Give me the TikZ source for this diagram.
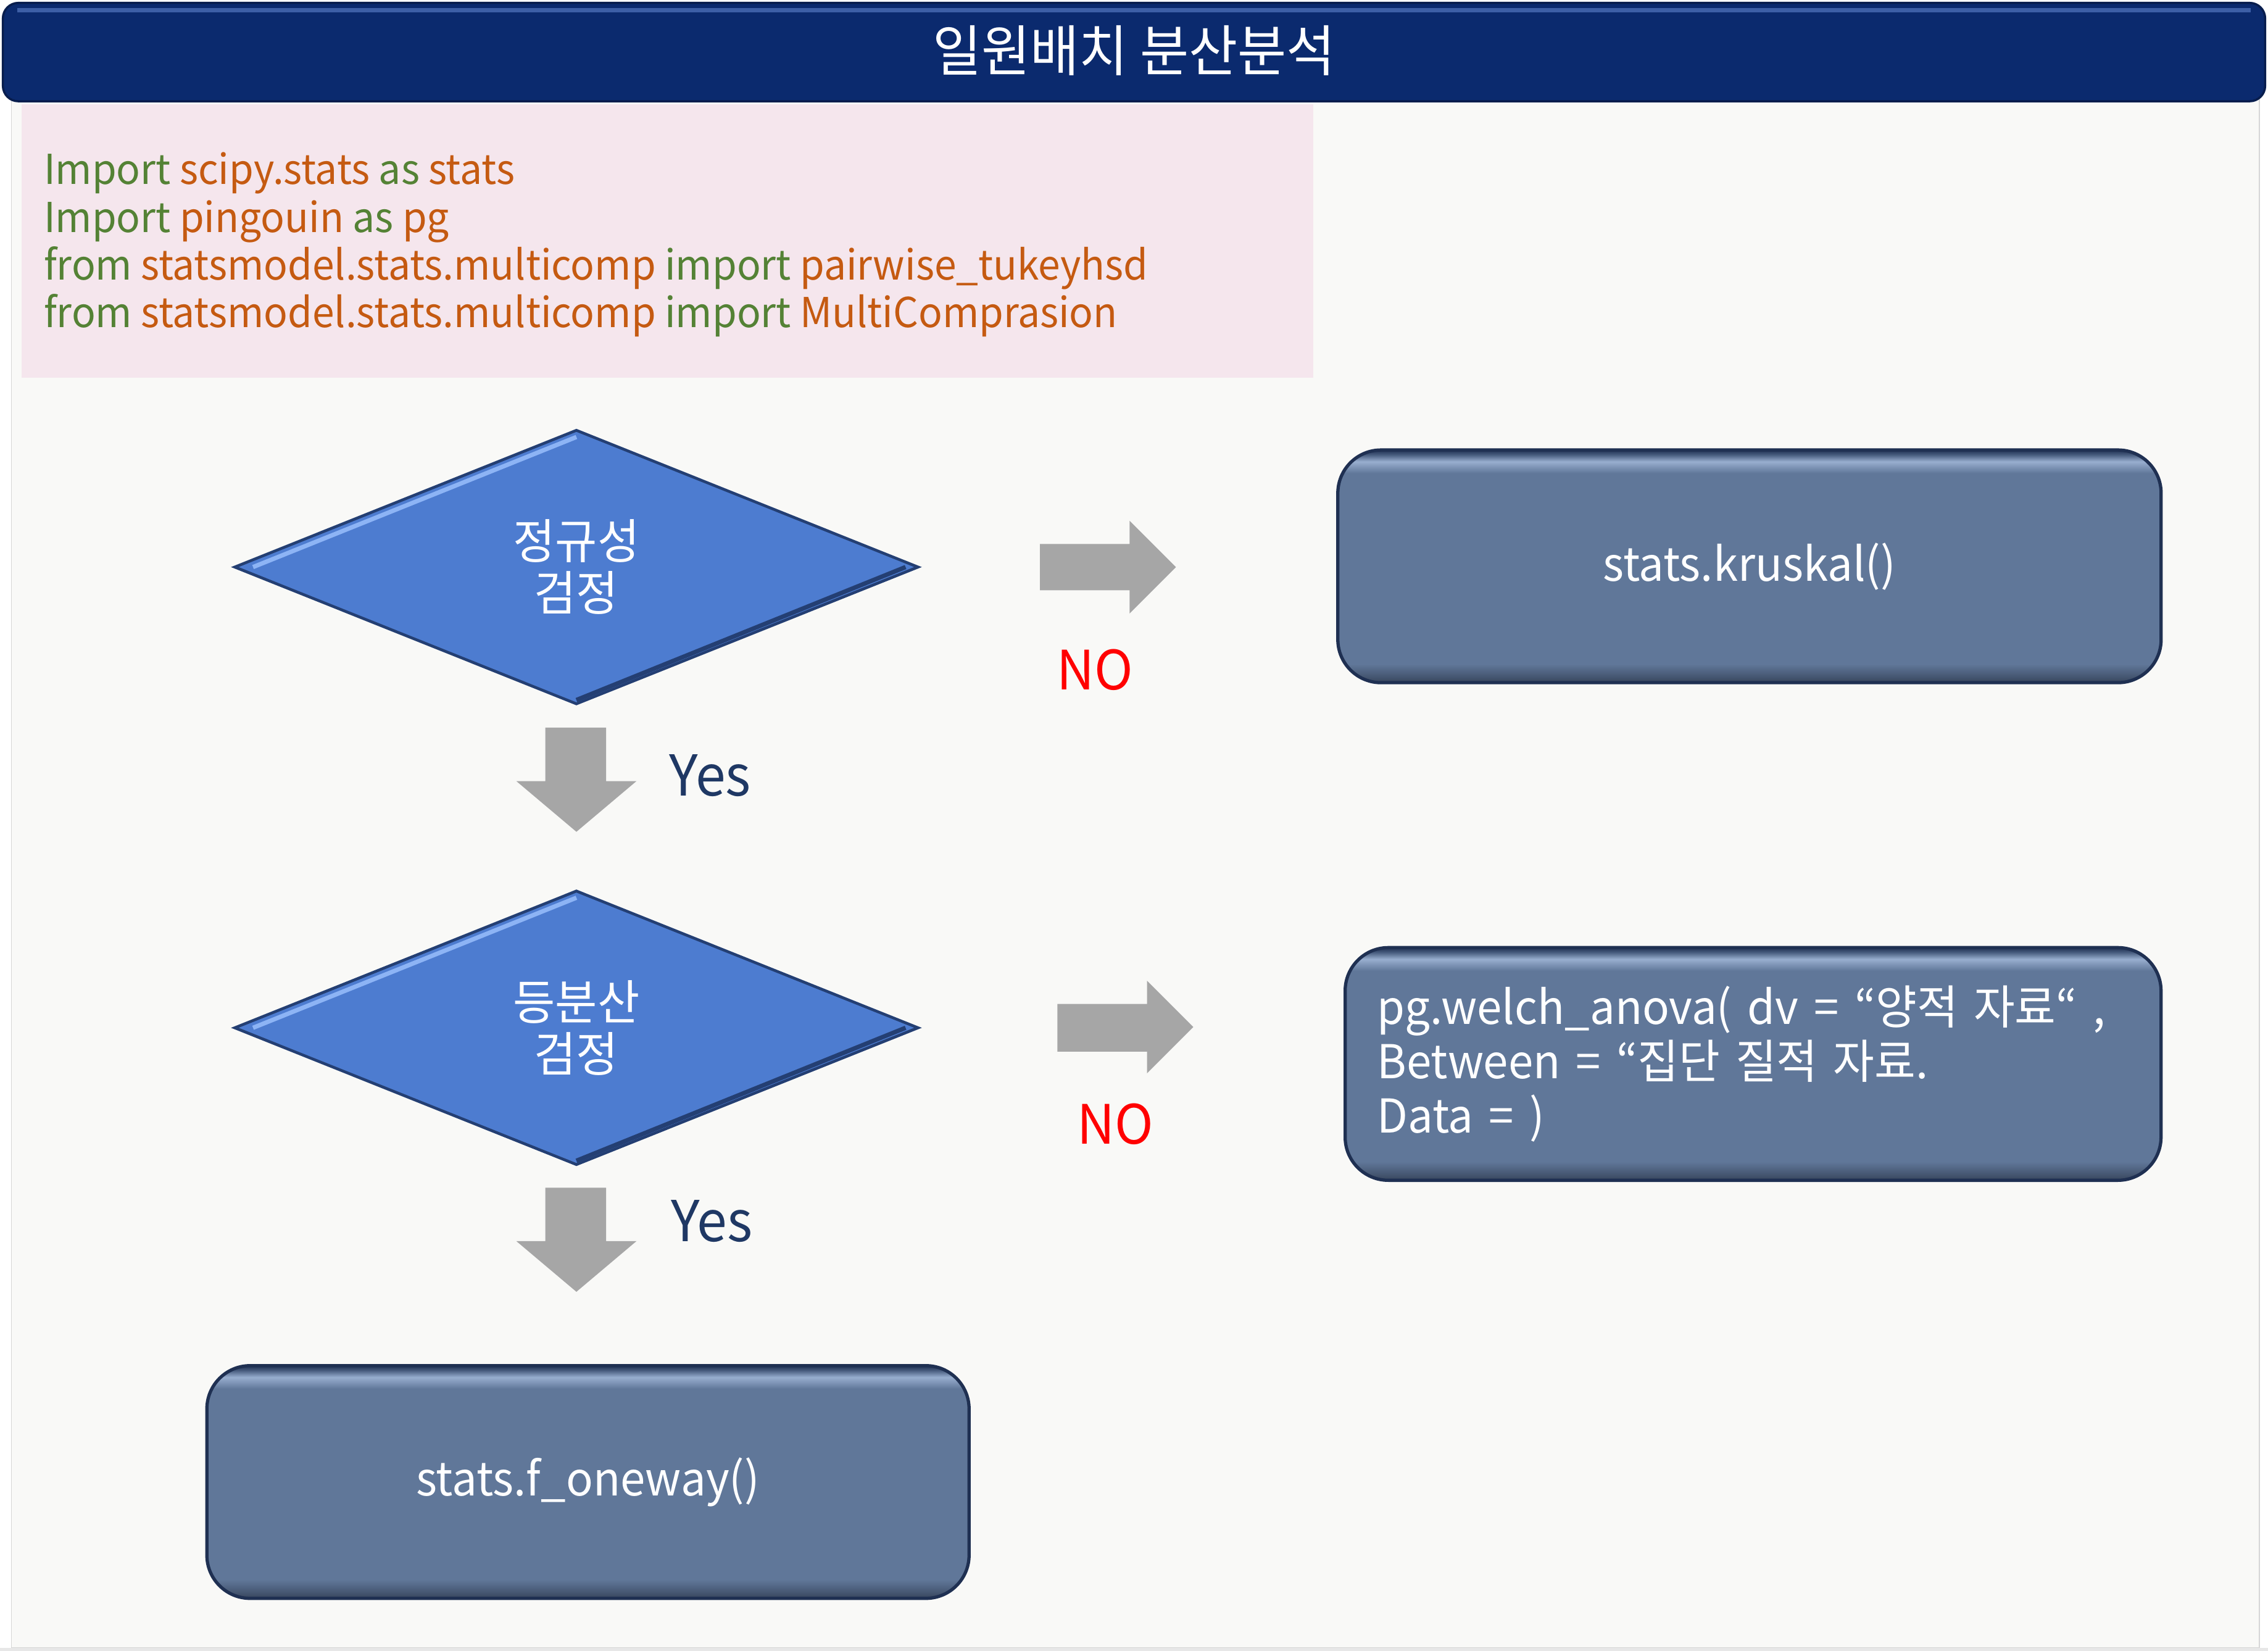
\documentclass[tikz,border=0pt]{standalone}
\usepackage{fontspec}
\setmainfont{Noto Sans CJK KR}[FakeStretch=0.96]
\usetikzlibrary{shapes.geometric,positioning,calc}
\definecolor{headnavy}{HTML}{0B2A6E}
\definecolor{headlight}{HTML}{3D5FA6}
\definecolor{panelgray}{HTML}{F9F9F7}
\definecolor{panelline}{HTML}{D6D6D6}
\definecolor{codepink}{HTML}{F5E6ED}
\definecolor{codegreen}{HTML}{548235}
\definecolor{codeorange}{HTML}{C55A11}
\definecolor{diamondblue}{HTML}{4D7CD0}
\definecolor{diamondhi}{HTML}{8DB4F5}
\definecolor{diamondedge}{HTML}{243F73}
\definecolor{boxslate}{HTML}{607799}
\definecolor{boxedge}{HTML}{1F3052}
\definecolor{boxlight}{HTML}{98AECF}
\definecolor{boxdark}{HTML}{37455C}
\definecolor{arrowgray}{HTML}{A6A6A6}
\definecolor{yesnavy}{HTML}{1F3864}
\definecolor{nored}{HTML}{FF0000}
\newcommand{\orng}[1]{\textcolor{codeorange}{#1}}
\pgfdeclareverticalshading{boxbevel}{100bp}{color(0bp)=(boxdark); color(25bp)=(boxdark); color(26.5bp)=(boxdark!60!boxslate); color(29bp)=(boxslate); color(70bp)=(boxslate); color(72.5bp)=(boxlight); color(74bp)=(boxslate!60!boxedge); color(75bp)=(boxedge); color(100bp)=(boxedge)}
\tikzset{
  decision/.style={diamond, draw=diamondedge, line width=1.3pt, fill=diamondblue,
    text=white, align=center, inner sep=0pt, minimum width=11.09cm, minimum height=4.45cm,
    font=\fontsize{22pt}{24pt}\selectfont},
  process/.style={rectangle, rounded corners=0.7cm, draw=boxedge, line width=1.5pt,
    shading=boxbevel, text=white, minimum height=3.77cm, font=\fontsize{21.5pt}{25pt}\selectfont},
  blockarrow/.style={fill=arrowgray, draw=none},
  codeline/.style={anchor=base west, inner sep=0pt, text=codegreen,
    font=\fontsize{19pt}{22pt}\selectfont},
  yeslabel/.style={text=yesnavy, font=\fontsize{26pt}{26pt}\selectfont},
  nolabel/.style={text=nored, font=\fontsize{25pt}{25pt}\selectfont}
}
\begin{document}
\begin{tikzpicture}[x=0.023438cm,y=-0.023438cm]
  \useasboundingbox (0,0) rectangle (1568,1141.3);
  % background panel
  \fill[panelline!60] (0,1139) rectangle (1568,1141.3);
  \draw[panelline,fill=panelgray] (8,40) rectangle (1562,1139);

  % title bar
  \draw[fill=headnavy,draw=headnavy!70!black,line width=1pt,rounded corners=0.25cm] (2,2) rectangle (1566,70);
  \draw[headlight,line width=2pt] (12,7) -- (1556,7);
  \node[text=white,font=\fontsize{25.5pt}{26pt}\selectfont] (title) at (784,35) {일원배치 분산분석};

  % imports
  \fill[codepink] (15,72) rectangle (908,261);
  \node[codeline] (code1) at (30,127.5) {Import \orng{scipy.stats} as \orng{stats}};
  \node[codeline] (code2) at (30,160.5) {Import \orng{pingouin} as \orng{pg}};
  \node[codeline] (code3) at (30,193.5) {from \orng{statsmodel.stats.multicomp} import \orng{pairwise\_tukeyhsd}};
  \node[codeline] (code4) at (30,226.5) {from \orng{statsmodel.stats.multicomp} import \orng{MultiComprasion}};

  % normality test
  \node[decision] (normtest) at (398.5,392) {정규성\\검정};
  \fill[blockarrow] (719,376) -- (781,376) -- (781,360) -- (813,392) -- (781,424) -- (781,408) -- (719,408) -- cycle;
  \node[nolabel] (no1) at (757,463) {NO};
  \node[process,minimum width=13.34cm] (kruskal) at (1209.5,391.5) {stats.kruskal()};
  \fill[blockarrow] (377,503) -- (419,503) -- (419,540) -- (440,540) -- (398.5,575) -- (357,540) -- (377,540) -- cycle;
  \node[yeslabel] (yes1) at (491,536) {Yes};

  % equal variance test
  \node[decision] (vartest) at (398.5,710.5) {등분산\\검정};
  \fill[blockarrow] (731,694) -- (793,694) -- (793,678) -- (825,710) -- (793,742) -- (793,727) -- (731,727) -- cycle;
  \node[nolabel] (no2) at (771,777) {NO};
  \node[process,minimum width=13.22cm,align=left,inner xsep=0.52cm,text width=12.18cm] (welch) at (1212,735.5)
    {pg.welch\_anova( dv = “양적 자료“ ,\\Between = “집단 질적 자료.\\Data = )};
  \fill[blockarrow] (377,821) -- (419,821) -- (419,858) -- (440,858) -- (398.5,893) -- (357,858) -- (377,858) -- cycle;
  \node[yeslabel] (yes2) at (492,844) {Yes};

  % one-way anova
  \node[process,minimum width=12.35cm] (oneway) at (406.5,1024.5) {stats.f\_oneway()};

  % bevel edges of the diamonds
  \foreach \d in {normtest,vartest}{
    \draw[diamondhi,line width=2pt] ($(\d.west)+(14,0)$) -- ($(\d.north)+(0,6)$);
    \draw[diamondedge,line width=2pt] ($(\d.south)+(0,-4)$) -- ($(\d.east)+(-10,0)$);
  }
\end{tikzpicture}
\end{document}
